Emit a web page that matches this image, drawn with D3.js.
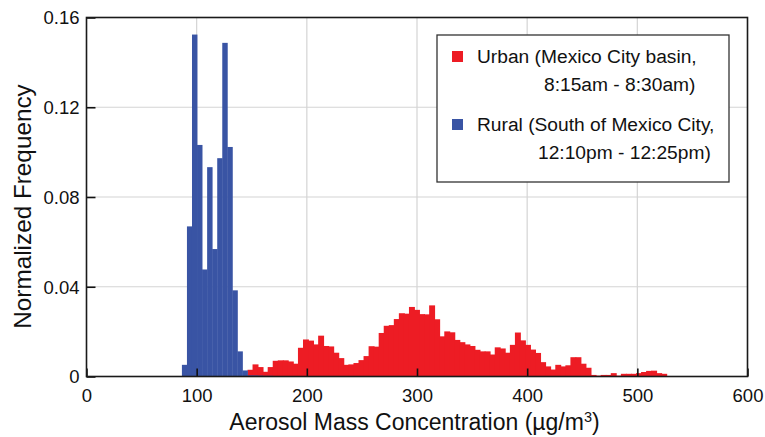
<!DOCTYPE html>
<html lang="en">
<head>
  <meta charset="UTF-8">
  <title>Aerosol Mass Concentration Histogram</title>
  <script src="https://d3js.org/d3.v7.min.js"></script>
  <style>
    body { margin: 0; background: #fff; }
    text { font-family: "Liberation Sans", Arial, Helvetica, sans-serif; fill: #111; }
  </style>
</head>
<body>
<div id="chart-container"></div>
<script>
  // Histogram bins (µg/m3): both series share the same bin grid
  const binStart = 86.6;
  const binWidth = 4.58;

  // Rural (blue) bin heights, starting at binStart
  const ruralValues = [
    0.0052, 0.0669, 0.1524, 0.1032, 0.0477, 0.0933, 0.0568, 0.0973, 0.1487, 0.1023,
    0.0384, 0.0112, 0.0027, 0.0005, 0.0005, 0.0004, 0.0003, 0.0003
  ];
  // Urban (red) bins start after the first 13 rural bins
  const urbanOffset = 13;
  const urbanValues = [
    0.0030, 0.0054, 0.0042, 0.0021, 0.0042, 0.0070, 0.0072, 0.0072, 0.0067, 0.0057,
    0.0128, 0.0165, 0.0160, 0.0143, 0.0182, 0.0136, 0.0134, 0.0106, 0.0082, 0.0052,
    0.0054, 0.0060, 0.0073, 0.0091, 0.0135, 0.0133, 0.0194, 0.0226, 0.0229, 0.0256,
    0.0282, 0.0280, 0.0310, 0.0297, 0.0278, 0.0277, 0.0317, 0.0255, 0.0179, 0.0201,
    0.0197, 0.0163, 0.0153, 0.0143, 0.0136, 0.0119, 0.0112, 0.0112, 0.0098, 0.0130,
    0.0125, 0.0106, 0.0141, 0.0196, 0.0161, 0.0141, 0.0120, 0.0105, 0.0064, 0.0045,
    0.0031, 0.0052, 0.0045, 0.0050, 0.0086, 0.0086, 0.0057, 0.0039, 0.0007, 0.0004,
    0.0007, 0.0007, 0.0015, 0.0004, 0.0012, 0.0012, 0.0012, 0.0015, 0.0020, 0.0025,
    0.0026, 0.0015, 0.0012
  ];

  const xTicks = [0, 100, 200, 300, 400, 500, 600];
  const yTicks = [0, 0.04, 0.08, 0.12, 0.16];
  const legendLines = [
    { name: 'Urban (Mexico City basin,', time: '8:15am - 8:30am)' },
    { name: 'Rural (South of Mexico City,', time: '12:10pm - 12:25pm)' }
  ];

  const W = 765, H = 437;
  const red = '#ed1c24', blue = '#3954a4';

  const x = d3.scaleLinear().domain([0, 600]).range([86.5, 747.5]);
  const y = d3.scaleLinear().domain([0, 0.16]).range([376.5, 17.5]);

  const svg = d3.select('#chart-container').append('svg')
    .attr('width', W).attr('height', H);

  // grid
  svg.append('g').selectAll('line.v')
    .data(xTicks.slice(1, -1))
    .enter().append('line')
    .attr('x1', d => x(d)).attr('x2', d => x(d))
    .attr('y1', y(0)).attr('y2', y(0.16))
    .attr('stroke', '#d4d4d4').attr('stroke-width', 1.2);
  svg.append('g').selectAll('line.h')
    .data(yTicks.slice(1, -1))
    .enter().append('line')
    .attr('x1', x(0)).attr('x2', x(600))
    .attr('y1', d => y(d)).attr('y2', d => y(d))
    .attr('stroke', '#d4d4d4').attr('stroke-width', 1.2);

  function drawBars(values, offset, color, overlap) {
    svg.append('g').selectAll('rect')
      .data(values)
      .enter().append('rect')
      .attr('x', (d, i) => x(binStart + (i + offset) * binWidth))
      .attr('width', x(binWidth) - x(0) + overlap)
      .attr('y', d => y(d))
      .attr('height', d => y(0) - y(d))
      .attr('fill', color);
  }
  drawBars(urbanValues, urbanOffset, red, 0.9);
  drawBars(ruralValues, 0, blue, 0.4);

  // axes with inward ticks
  const xAxis = d3.axisBottom(x).tickValues(xTicks).tickSizeInner(-8).tickSizeOuter(0)
    .tickPadding(12).tickFormat(d3.format('d'));
  const yAxis = d3.axisLeft(y).tickValues(yTicks).tickSizeInner(-9).tickSizeOuter(0)
    .tickPadding(7).tickFormat(d => d === 0 ? '0' : d3.format('.2f')(d));

  const gx = svg.append('g').attr('transform', `translate(0,${y(0)})`).call(xAxis);
  const gy = svg.append('g').attr('transform', `translate(${x(0)},0)`).call(yAxis);
  [gx, gy].forEach(g => {
    g.select('.domain').remove();
    g.selectAll('.tick line').attr('stroke', '#111').attr('stroke-width', 1.6);
    g.selectAll('.tick text').attr('font-size', 18.5).style('fill', '#111');
  });
  gy.selectAll('.tick text').attr('dy', '0.35em');

  // frame
  svg.append('rect')
    .attr('x', x(0)).attr('y', y(0.16))
    .attr('width', x(600) - x(0)).attr('height', y(0) - y(0.16))
    .attr('fill', 'none').attr('stroke', '#1a1a1a').attr('stroke-width', 1.6);

  // axis titles
  const xt = svg.append('text')
    .attr('x', 414.5).attr('y', 430)
    .attr('text-anchor', 'middle').attr('font-size', 23)
    .text('Aerosol Mass Concentration (\u00b5g/m');
  xt.append('tspan').attr('dy', -8).attr('font-size', 14.5).text('3');
  xt.append('tspan').attr('dy', 8).text(')');

  svg.append('text')
    .attr('transform', 'translate(31,206.5) rotate(-90)')
    .attr('text-anchor', 'middle').attr('font-size', 24.3)
    .text('Normalized Frequency');

  // legend
  const lg = svg.append('g');
  lg.append('rect')
    .attr('x', 437).attr('y', 35).attr('width', 292).attr('height', 147)
    .attr('fill', '#fff').attr('stroke', '#333').attr('stroke-width', 1.3);
  const legendColors = [red, blue];
  legendLines.forEach((l, i) => {
    const top = 51 + i * 68;
    lg.append('rect').attr('x', 452).attr('y', top).attr('width', 11).attr('height', 11)
      .attr('fill', legendColors[i]);
    lg.append('text').attr('x', 477).attr('y', top + 12).attr('font-size', 19.2).text(l.name);
    lg.append('text').attr('x', i === 0 ? 544 : 538).attr('y', top + 39.5)
      .attr('font-size', 19.2).text(l.time);
  });
</script>
</body>
</html>
